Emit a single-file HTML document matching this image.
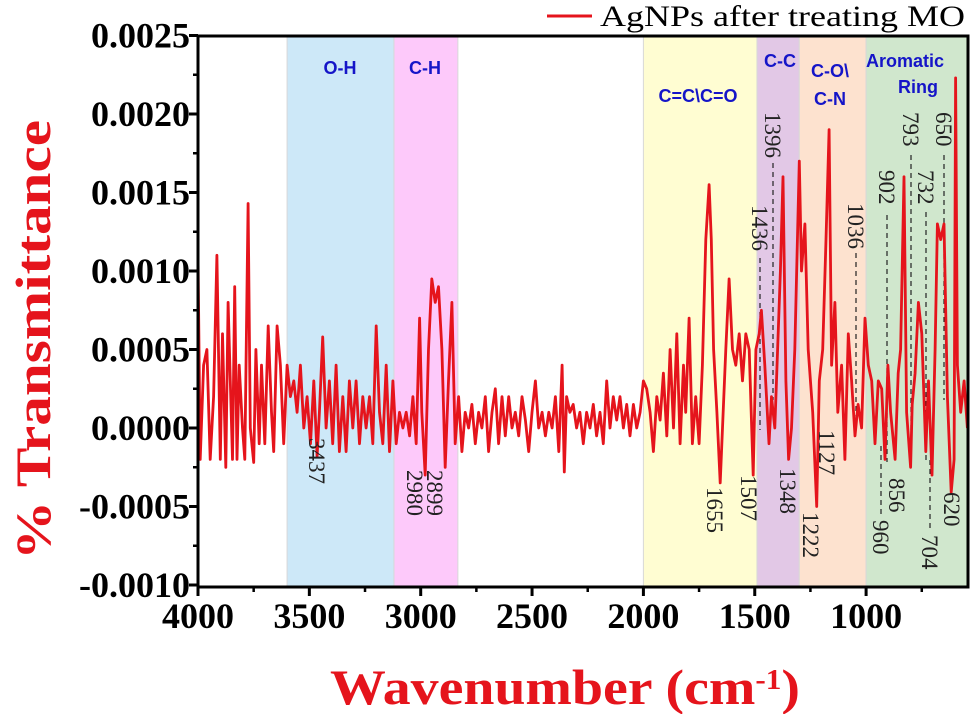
<!DOCTYPE html>
<html><head><meta charset="utf-8"><style>
body{margin:0;background:#fff}
svg{display:block;font-family:"Liberation Serif",serif}
.tk{font-weight:bold;font-size:36px}
.bl{font-family:"Liberation Sans",sans-serif;font-weight:bold;font-size:18px;fill:#1515c8}
.pk{font-size:23px;fill:#222}
</style></head><body>
<svg id="chart" width="975" height="714">
<g id="bands"></g>
<g id="dash"></g>
<path id="spec" fill="none" stroke="#e5141c" stroke-width="2.8" stroke-linejoin="round"/>
<g id="axes"></g>
<g id="labels"></g>
<g>
<line x1="547" y1="16" x2="592" y2="16" stroke="#e5141c" stroke-width="3"/>
<text x="600" y="26" font-size="30" textLength="365" lengthAdjust="spacingAndGlyphs">AgNPs after treating MO</text>
</g>
<text transform="translate(50,340) rotate(-90)" text-anchor="middle" font-size="50" font-weight="bold" fill="#e5141c" textLength="440" lengthAdjust="spacingAndGlyphs">% Transmittance</text>
<text x="330" y="704" font-size="50" font-weight="bold" fill="#e5141c" textLength="470" lengthAdjust="spacingAndGlyphs">Wavenumber (cm<tspan baseline-shift="super" font-size="28">-1</tspan>)</text>
</svg>
<script>
const wn=[4000,3990,3975,3960,3945,3930,3915,3900,3890,3875,3865,3855,3845,3835,3825,3815,3800,3790,3775,3765,3750,3740,3725,3715,3700,3685,3670,3660,3645,3630,3615,3600,3585,3570,3555,3540,3525,3510,3495,3480,3465,3455,3440,3425,3410,3395,3380,3365,3350,3335,3320,3305,3290,3275,3260,3245,3230,3215,3200,3185,3170,3155,3140,3125,3110,3095,3080,3065,3050,3035,3020,3005,2995,2980,2965,2950,2935,2920,2905,2890,2875,2860,2845,2830,2815,2800,2785,2770,2755,2740,2725,2710,2695,2680,2665,2650,2635,2620,2605,2590,2575,2560,2545,2530,2515,2500,2485,2470,2455,2440,2425,2410,2395,2380,2365,2355,2345,2330,2315,2300,2285,2270,2255,2240,2225,2210,2195,2180,2165,2150,2135,2120,2105,2090,2075,2060,2045,2030,2015,2000,1985,1970,1955,1940,1925,1910,1895,1880,1865,1850,1835,1820,1810,1795,1780,1765,1750,1735,1720,1705,1695,1685,1670,1655,1645,1630,1615,1600,1585,1570,1555,1540,1525,1507,1495,1480,1470,1455,1436,1425,1410,1385,1373,1360,1348,1335,1320,1300,1290,1275,1260,1240,1222,1210,1195,1180,1166,1155,1140,1127,1110,1095,1080,1065,1050,1036,1020,1005,990,975,960,945,930,915,902,890,870,856,845,830,818,800,793,780,765,750,732,720,704,690,680,665,650,635,618,605,598,590,575,560,545];
const val=[11,-2,4,5,-2,2,11,-2,6,-2.5,8,3,-2,9,-2,4,0,-2,14.3,0,-2.2,5,-1,4,-1,6.5,1,-1.5,6.5,4,-1,4,2,3,1,4,0,2,-1,3,-1.8,1,5.8,0,3,-1,4,-1.5,2,-1.5,3,0,3,-1,2,0,2,-1,6.5,1,-1,4,-1.5,3,-1,1,0,1,-0.5,2,-1,7,1,-3,5,9.5,8,9,5,-2.5,3,8,-1,2,-1.5,1,0,1.5,-1,1,0,2,-1.5,1,2.5,-1,2,-0.5,2,0,1,-0.5,2,0.5,-1.5,1,3,0,1,-0.5,1,0,2,-1.5,4,-2.8,2,1,1.5,0,1,-1,1,0,1.5,-0.5,1,-1,3,0,2,0.5,2,0,1.5,-0.5,1.5,0,1,3,2.5,1,-1.5,2,0.5,3.5,-0.5,5,0,6,-1,4,1,7,-1,2,-1,4,12,15.5,12,5,1,-3.5,0,5,9.5,5,4,6,3,6,5,-3,5,6,7.5,4,-1,2,0,10,16,3,-2,0,5,17,10,13,5,1,-5,3,5,12,19,4,8,1,4,-2,6,3,-0.5,1.5,0,7,4,3,-1,3,2.5,-2,4,1,-2,3.5,5,16,1,-2.5,1.5,3.5,8,6,-1.5,3,-3,5,13,12,13,2,-4.1,-2,22.3,4,1,3,0];
const yTicks=[0.0025,0.0020,0.0015,0.0010,0.0005,0.0000,-0.0005,-0.0010];
const yTickLabels=["0.0025","0.0020","0.0015","0.0010","0.0005","0.0000","-0.0005","-0.0010"];
const xTicks=[4000,3500,3000,2500,2000,1500,1000];
const bandStart=[3600,3120,2000,1490,1300,1000];
const bandEnd=[3120,2833,1490,1300,1000,540];
const bandNames=["o-h-band","c-h-band","c-c-c-o-band","c-c-band","c-o-c-n-band","aromatic-ring-band"];
const bandColors=["#cde8f8","#fdc9fa","#fffdd2","#e2c8e6","#fde2cf","#d0e7cd"];
const X0=198,X1=968,Y0=36,Y1=587;
const x=w=>198+(4000-w)*0.2227;
const y=v=>428-v/0.0005*78.5;
const NS="http://www.w3.org/2000/svg";
function mk(tag,attrs,parent,txt){const e=document.createElementNS(NS,tag);for(const k in attrs)e.setAttribute(k,attrs[k]);if(txt!=null)e.textContent=txt;parent.appendChild(e);return e;}
const bands=document.getElementById('bands');
for(let i=0;i<bandStart.length;i++){
 const r=mk('rect',{x:x(bandStart[i]),y:Y0,width:x(bandEnd[i])-x(bandStart[i]),height:Y1-Y0,fill:bandColors[i],stroke:'#d8d8d8','stroke-width':1},bands);
 
 
}
let d='';
for(let i=0;i<wn.length;i++){d+=(i?'L':'M')+x(wn[i]).toFixed(1)+','+y(val[i]*1e-4).toFixed(1);}
document.getElementById('spec').setAttribute('d',d);
const ax=document.getElementById('axes');
mk('rect',{x:X0,y:Y0,width:X1-X0,height:Y1-Y0,fill:'none',stroke:'#000','stroke-width':3},ax);
for(let i=0;i<yTicks.length;i++){
 const yy=y(yTicks[i]);
 mk('line',{x1:X0-9,y1:yy,x2:X0,y2:yy,stroke:'#000','stroke-width':3},ax);
 if(i<yTicks.length-1){const ym=y(yTicks[i]-0.00025);mk('line',{x1:X0-5,y1:ym,x2:X0,y2:ym,stroke:'#000','stroke-width':2.5},ax);}
 const t=mk('text',{x:X0-8,y:yy+12,'text-anchor':'end',class:'tk'},ax,yTickLabels[i]);
 
 
}
for(let i=0;i<xTicks.length;i++){
 const xx=x(xTicks[i]);
 mk('line',{x1:xx,y1:Y1,x2:xx,y2:Y1+9,stroke:'#000','stroke-width':3},ax);
 const xm=x(xTicks[i]-250);if(xm<X1)mk('line',{x1:xm,y1:Y1,x2:xm,y2:Y1+5,stroke:'#000','stroke-width':2.5},ax);
 const t=mk('text',{x:xx,y:Y1+41,'text-anchor':'middle',class:'tk'},ax,String(xTicks[i]));
 
 
}
const lb=document.getElementById('labels');
const bl=[["O-H",340,74],["C-H",425,74],["C=C\\C=O",698,102],["C-C",780,67],["C-O\\",830,77],["C-N",830,105],["Aromatic",905,67],["Ring",918,93]];
bl.forEach(b=>{const t=mk('text',{x:b[1],y:b[2],'text-anchor':'middle',class:'bl'},lb,b[0]);
 
 });
const pk=[["3437",316,438],["2980",414,470],["2899",434,470],["1655",714,487],["1507",748,475],["1348",787,468],["1222",810,512],["1127",826,430],["960",880,520,446,518],["856",896,478],["704",929,535,460,532],["620",951,492],
["1396",772,112,163,400],["1436",759,205,258,430],["1036",855,203,253,430],["902",886,170,215,462],["793",910,112,155,445],["732",925,170,212,460],["650",943,112,155,400]];
const dg=document.getElementById('dash');
pk.forEach(p=>{
 const t=mk('text',{transform:`translate(${p[1]-7},${p[2]}) rotate(90)`,class:'pk'},lb,p[0]);
 
 
 if(p[3]!=null){mk('line',{x1:p[1]+1,y1:p[3],x2:p[1]+1,y2:p[4],stroke:'#222','stroke-width':1.2,'stroke-dasharray':'5,4'},dg);}
});
</script>
</body></html>
